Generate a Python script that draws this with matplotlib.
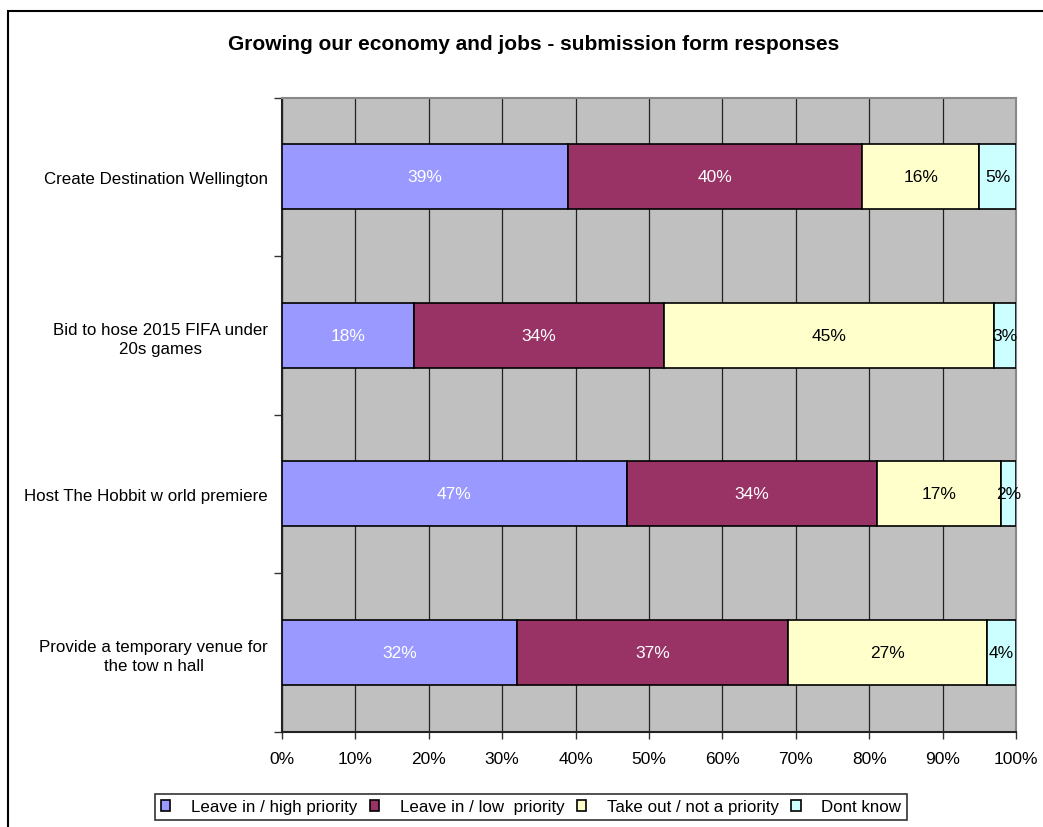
import matplotlib
matplotlib.use("Agg")
import matplotlib.pyplot as plt
from matplotlib.patches import Rectangle

plt.rcParams['font.family'] = ['Liberation Sans', 'DejaVu Sans']

categories = [
    "Create Destination Wellington",
    "Bid to hose 2015 FIFA under\n20s games",
    "Host The Hobbit w orld premiere",
    "Provide a temporary venue for\nthe tow n hall",
]
series_names = [
    "Leave in / high priority",
    "Leave in / low  priority",
    "Take out / not a priority",
    "Dont know",
]
high_priority = [39, 18, 47, 32]
low_priority = [40, 34, 34, 37]
not_priority = [16, 45, 17, 27]
dont_know = [5, 3, 2, 4]
x_ticks = [0, 10, 20, 30, 40, 50, 60, 70, 80, 90, 100]
title = "Growing our economy and jobs - submission form responses"

colors = ["#9999FF", "#993366", "#FFFFCC", "#CCFFFF"]
text_colors = ["white", "white", "black", "black"]

fig = plt.figure(figsize=(10.43, 8.28), dpi=100)
fig.patch.set_facecolor("white")

# outer chart frame
fig.add_artist(Rectangle((8 / 1043, -0.05), 1.1, 1 - 12 / 828 + 0.05,
                         transform=fig.transFigure, fill=False,
                         edgecolor="black", linewidth=1.5))

ax = fig.add_axes([282 / 1043, 95.5 / 828, (1016 - 282) / 1043, (733 - 99) / 828])
ax.set_facecolor("#C0C0C0")

n = len(categories)
ypos = [n - 1 - i + 0.5 for i in range(n)]
series = [high_priority, low_priority, not_priority, dont_know]

left = [0] * n
handles = []
for vals, col, tcol, name in zip(series, colors, text_colors, series_names):
    bars = ax.barh(ypos, vals, left=left, height=0.41, color=col,
                   edgecolor="black", linewidth=1.2, label=name, zorder=3)
    handles.append(bars)
    for y, v, l in zip(ypos, vals, left):
        ax.text(l + v / 2, y, f"{v}%", ha="center", va="center",
                color=tcol, fontsize=12.5, zorder=4)
    left = [a + b for a, b in zip(left, vals)]

ax.set_xlim(0, 100)
ax.set_ylim(0, n)
ax.set_xticks(x_ticks)
ax.set_xticklabels([f"{t}%" for t in x_ticks], fontsize=12.5)
ax.set_yticks(range(n + 1))
ax.set_yticklabels([])
ax.set_yticks(ypos, minor=True)
ax.set_yticklabels(categories, minor=True, fontsize=12.2, ha="right",
                   multialignment="center", linespacing=1.35)
ax.tick_params(axis="y", which="minor", length=0, pad=10)
ax.tick_params(axis="y", which="major", length=6, width=1, color="#333333")
ax.tick_params(axis="x", length=5, width=1, color="#333333", pad=9)

ax.grid(axis="x", color="#222222", linewidth=0.9, zorder=1)
ax.set_axisbelow(True)

for side in ["left", "bottom"]:
    ax.spines[side].set_color("#222222")
    ax.spines[side].set_linewidth(1.5)
for side in ["top", "right"]:
    ax.spines[side].set_color("#888888")
    ax.spines[side].set_linewidth(1.5)

fig.text(534 / 1043, 1 - 45 / 828, title, ha="center", va="center",
         fontsize=15, fontweight="bold")

leg = fig.legend(handles=handles, labels=series_names, loc="center",
                 bbox_to_anchor=(531 / 1043, 1 - 808 / 828), ncol=4,
                 fontsize=12.2, frameon=True, fancybox=False, shadow=False,
                 handlelength=0.55, handleheight=0.55, handletextpad=1.2,
                 columnspacing=0.75, borderpad=0.35, edgecolor="black")
leg.get_frame().set_linewidth(1.2)

fig.savefig("out.png", dpi=100)
